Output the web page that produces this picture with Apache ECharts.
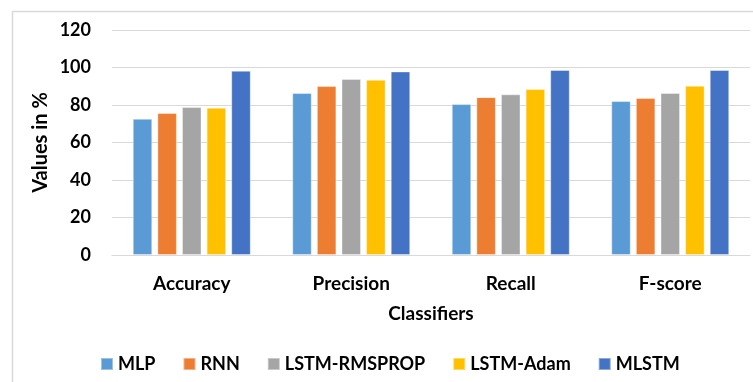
<!DOCTYPE html>
<html><head><meta charset="utf-8">
<script src="https://cdn.jsdelivr.net/npm/echarts@6/dist/echarts.min.js"></script>
<style>html,body{margin:0;padding:0;background:#fff}#c{width:753px;height:382px}</style>
</head><body><div id="c"></div>
<script>
const categories = ['Accuracy', 'Precision', 'Recall', 'F-score'];
const seriesNames = ['MLP', 'RNN', 'LSTM-RMSPROP', 'LSTM-Adam', 'MLSTM'];
const mlp = [72.7, 86.4, 80.5, 82.1];
const rnn = [75.7, 90.1, 84.2, 83.7];
const lstmRms = [78.9, 93.9, 85.7, 86.4];
const lstmAdam = [78.6, 93.5, 88.5, 90.3];
const mlstm = [98.3, 97.9, 98.7, 98.7];
const yTicks = [0, 20, 40, 60, 80, 100, 120];
const colors = ['#5B9BD5', '#ED7D31', '#A5A5A5', '#FFC000', '#4472C4'];
const values = [mlp, rnn, lstmRms, lstmAdam, mlstm];

const FONT = 'Lato';
const chart = echarts.init(document.getElementById('c'), null, {renderer: 'canvas'});
chart.setOption({
  animation: false,
  color: colors,
  graphic: [{
    type: 'rect', left: 10, top: 9, shape: {x: 0, y: 0, width: 760, height: 390},
    style: {fill: 'none', stroke: '#d9d9d9', lineWidth: 1.5}, z: -1
  }],
  grid: {left: 112, right: 3, top: 30, bottom: 127, containLabel: false},
  legend: {
    top: 355, left: 100, itemWidth: 12, itemHeight: 12, itemGap: 27,
    icon: 'rect', padding: 0,
    textStyle: {fontFamily: FONT, fontWeight: 'bold', fontSize: 18, color: '#000'},
    data: seriesNames
  },
  xAxis: {
    type: 'category', data: categories,
    name: 'Classifiers', nameLocation: 'middle', nameGap: 49,
    nameTextStyle: {fontFamily: FONT, fontWeight: 'bold', fontSize: 19, color: '#000'},
    axisLine: {lineStyle: {color: '#d9d9d9', width: 1}},
    axisTick: {show: false},
    axisLabel: {fontFamily: FONT, fontWeight: 'bold', fontSize: 19, color: '#000', margin: 19}
  },
  yAxis: {
    type: 'value', min: yTicks[0], max: yTicks[yTicks.length - 1], interval: 20,
    name: 'Values in %', nameLocation: 'middle', nameGap: 61, nameMoveOverlap: false,
    nameTextStyle: {fontFamily: FONT, fontWeight: 'bold', fontSize: 20, color: '#000'},
    axisLine: {show: false}, axisTick: {show: false},
    splitLine: {lineStyle: {color: '#d9d9d9', width: 1}},
    axisLabel: {fontFamily: FONT, fontWeight: 'bold', fontSize: 18, color: '#000', margin: 21}
  },
  series: seriesNames.map((n, i) => ({
    name: n, type: 'bar', data: values[i],
    barGap: '26%', barCategoryGap: '26%',
    itemStyle: {color: colors[i], borderColor: 'rgba(255,255,255,0.4)', borderWidth: 1}
  }))
});
</script></body></html>
